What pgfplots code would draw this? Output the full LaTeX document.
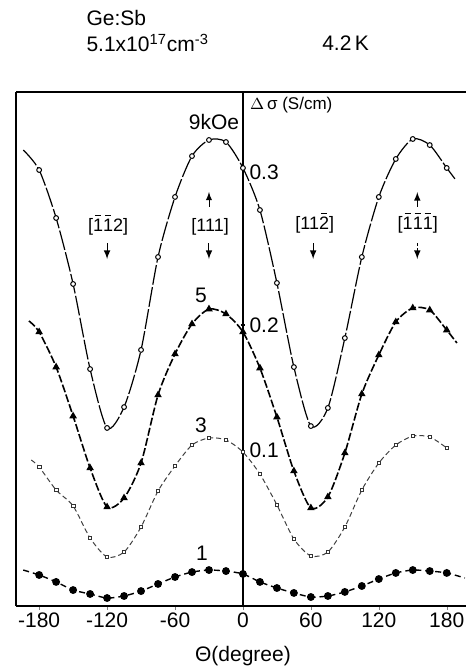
\documentclass[border=0pt]{standalone}
\usepackage{fontspec}
\setmainfont{Liberation Sans}
\usepackage{pgfplots}
\pgfplotsset{compat=1.18}
\newcommand\ob[1]{\leavevmode\hbox{\ooalign{#1\cr\hidewidth\raisebox{0.86em}{\rule{0.36em}{0.5pt}}\hidewidth\cr}}}
\begin{document}
\fontsize{10.5}{12}\selectfont
\begin{tikzpicture}
\begin{axis}[
  scale only axis, width=224.75pt, height=257pt,
  xmin=-200, xmax=197, ymin=0, ymax=0.3545,
  axis x line*=box, axis y line*=left,
  axis line style={line width=1pt},
  ytick=\empty,
  xtick={-180,-120,-60,0,60,120,180},
  xticklabels={-180,-120,-60,0,60,120,180},
  xtick pos=bottom, tick align=outside, major tick length=2pt,
  xticklabel style={font=\fontsize{10.5}{12}\selectfont, inner sep=1pt},
  clip=false,
]
% 9 kOe
\addplot[black, line width=0.6pt, smooth, tension=0.45, dash pattern=on 10pt off 1.2pt,
  mark=*, mark size=1.2pt, mark options={solid, fill=white, draw=black, line width=0.5pt}, mark indices={2,...,26}]
coordinates {(-194,0.3145)
(-180,0.3007)(-165,0.2676)(-150,0.2221)(-135,0.1634)(-120,0.1228)(-105,0.1372)(-90,0.1766)
(-75,0.2407)(-60,0.2821)(-45,0.3103)(-30,0.3214)(-15,0.3200)(0,0.3021)(15,0.2731)(30,0.2228)
(45,0.1648)(60,0.1241)(75,0.1366)(90,0.1848)(105,0.2407)(120,0.2821)(135,0.3083)(150,0.3221)
(165,0.3179)(180,0.3021)
(188,0.2938)};
% 5 kOe
\addplot[black, line width=0.8pt, smooth, tension=0.45, dash pattern=on 4pt off 1.2pt,
  mark=triangle*, mark size=1.4pt, mark options={solid}, mark indices={2,...,26}]
coordinates {(-189,0.1966)
(-180,0.1890)(-165,0.1648)(-150,0.1310)(-135,0.0952)(-120,0.0683)(-105,0.0745)(-90,0.0986)
(-75,0.1455)(-60,0.1738)(-45,0.1945)(-30,0.2048)(-15,0.2014)(0,0.1890)(15,0.1641)(30,0.1303)
(45,0.0931)(60,0.0676)(75,0.0752)(90,0.1055)(105,0.1462)(120,0.1731)(135,0.1959)(150,0.2055)
(165,0.2041)(180,0.1903)
(189,0.1814)};
% 3 kOe
\addplot[black!75, line width=0.5pt, smooth, tension=0.45, dash pattern=on 2.5pt off 1.5pt,
  mark=square*, mark size=0.9pt, mark options={solid, fill=white, draw=black!80, line width=0.4pt}, mark indices={2,...,26}]
coordinates {(-187,0.1007)
(-180,0.0959)(-165,0.0800)(-150,0.0690)(-135,0.0469)(-120,0.0338)(-105,0.0372)(-90,0.0545)
(-75,0.0793)(-60,0.0966)(-45,0.1110)(-30,0.1159)(-15,0.1145)(0,0.1062)(15,0.0910)(30,0.0697)
(45,0.0462)(60,0.0345)(75,0.0372)(90,0.0545)(105,0.0800)(120,0.0986)(135,0.1110)(150,0.1172)
(165,0.1166)(180,0.1090)};
% 1 kOe
\addplot[black, line width=0.7pt, smooth, tension=0.45, dash pattern=on 3pt off 2pt,
  mark=*, mark size=1.6pt, mark options={solid}, mark indices={2,...,26}]
coordinates {(-194,0.0248)
(-180,0.0214)(-165,0.0166)(-150,0.0110)(-135,0.0083)(-120,0.0055)(-105,0.0069)(-90,0.0103)
(-75,0.0152)(-60,0.0200)(-45,0.0234)(-30,0.0248)(-15,0.0241)(0,0.0221)(15,0.0166)(30,0.0124)
(45,0.0090)(60,0.0062)(75,0.0069)(90,0.0097)(105,0.0138)(120,0.0186)(135,0.0228)(150,0.0248)
(165,0.0241)(180,0.0228)
(196,0.0193)};
% vertical axis at 0
\draw[line width=0.9pt] (axis cs:0,0) -- (axis cs:0,0.3545);
\draw[line width=0.6pt] (axis cs:-2,0.1938) -- (axis cs:2,0.1938);
\node[anchor=west, inner sep=0pt] at (axis cs:5.5,0.2993) {0.3};
\node[anchor=west, inner sep=0pt] at (axis cs:5.5,0.1938) {0.2};
\node[anchor=west, inner sep=0pt] at (axis cs:5.5,0.1076) {0.1};
\node[anchor=west, inner sep=0pt, font=\fontsize{8.5}{10}\selectfont] at (axis cs:6,0.3455) {$\Delta$\,σ (S/cm)};
% curve labels
\node[inner sep=0pt] at (axis cs:-25.6,0.3338) {9kOe};
\node[inner sep=0pt] at (axis cs:-37,0.2145) {5};
\node[inner sep=0pt] at (axis cs:-37,0.1248) {3};
\node[inner sep=0pt] at (axis cs:-36.2,0.0366) {1};
% directions
\node[inner sep=0pt, font=\fontsize{9}{10}\selectfont] at (axis cs:-119,0.2614) {[\ob{1}\ob{1}2]};
\node[inner sep=0pt, font=\fontsize{9}{10}\selectfont] at (axis cs:-29,0.2614) {[111]};
\node[inner sep=0pt, font=\fontsize{9}{10}\selectfont] at (axis cs:63.5,0.2628) {[11\ob{2}]};
\node[inner sep=0pt, font=\fontsize{9}{10}\selectfont] at (axis cs:154.4,0.2628) {[\ob{1}\ob{1}\ob{1}]};
\draw[-latex, line width=0.5pt] (axis cs:-120,0.2503) -- (axis cs:-120,0.2393);
\draw[-latex, line width=0.5pt] (axis cs:-30,0.2503) -- (axis cs:-30,0.2393);
\draw[-latex, line width=0.5pt] (axis cs:62,0.2503) -- (axis cs:62,0.2393);
\draw[-latex, line width=0.5pt, dash pattern=on 1.5pt off 1pt] (axis cs:154,0.2503) -- (axis cs:154,0.2393);
\draw[-latex, line width=0.4pt] (axis cs:-30,0.2752) -- (axis cs:-30,0.2855);
\draw[-latex, line width=0.5pt] (axis cs:154,0.2752) -- (axis cs:154,0.2855);
% header
\node[anchor=west, inner sep=0pt] at (axis cs:-138.5,0.4055) {Ge:Sb};
\node[anchor=west, inner sep=0pt] at (axis cs:-138.5,0.3883) {5.1x10\textsuperscript{17}cm\textsuperscript{-3}};
\node[anchor=west, inner sep=0pt] at (axis cs:69.7,0.3883) {4.2\,K};
\node[inner sep=0pt] at (axis cs:0,-0.0345) {Θ(degree)};
\coordinate (BL) at (rel axis cs:0,0);
\coordinate (TR) at (rel axis cs:1,1);
\end{axis}
\pgfresetboundingbox
\path ([shift={(-8.25pt,-31pt)}]BL) rectangle ([shift={(0pt,46pt)}]TR);
\end{tikzpicture}
\end{document}
